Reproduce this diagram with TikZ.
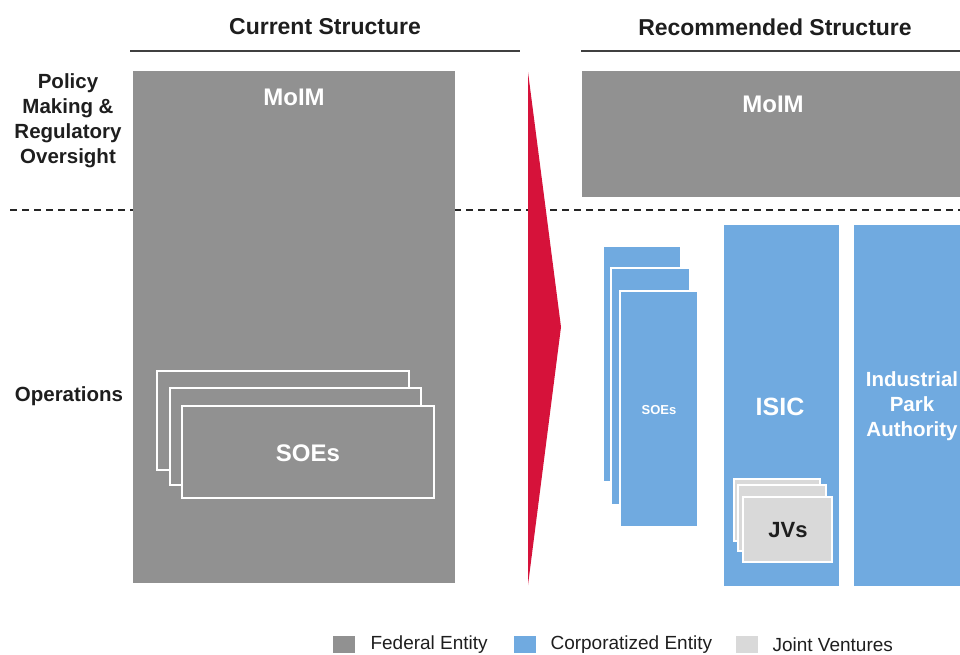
\documentclass[tikz,border=0pt]{standalone}
\usepackage{fontspec}
\setmainfont{Liberation Sans}
\definecolor{fedgray}{RGB}{145,145,145}
\definecolor{corpblue}{RGB}{112,170,224}
\definecolor{jvgray}{RGB}{217,217,217}
\definecolor{arrowred}{RGB}{214,18,58}
\definecolor{txt}{RGB}{30,30,30}
\tikzset{
  box/.style={anchor=north west, inner sep=0pt, outer sep=0pt},
  fedbox/.style={box, fill=fedgray},
  corpbox/.style={box, fill=corpblue},
  stackg/.style={box, fill=fedgray, draw=white, line width=1.6pt},
  stackb/.style={box, fill=corpblue, draw=white, line width=1.4pt},
  stackj/.style={box, fill=jvgray, draw=white, line width=1.4pt},
  title/.style={font=\fontsize{23}{27}\selectfont\bfseries, text=txt},
  side/.style={font=\fontsize{20.5}{25}\selectfont\bfseries, text=txt, align=center},
  wlab/.style={font=\fontsize{24}{25}\selectfont\bfseries, text=white, align=center},
  legtext/.style={font=\fontsize{19}{22}\selectfont, text=txt, anchor=west},
  legsq/.style={box, minimum width=22pt, minimum height=17pt},
}
\begin{document}
\begin{tikzpicture}[x=1pt,y=-1pt]
\useasboundingbox (0,0) rectangle (960,654);
% titles
\node[title] (t1) at (325,27) {Current Structure};
\node[title] (t2) at (775,27) {Recommended Structure};
\coordinate (l1a) at (130,51); \coordinate (l1b) at (520,51);
\coordinate (l2a) at (581,51); \coordinate (l2b) at (962,51);
\draw[line width=2pt, black!75] (l1a) -- (l1b);
\draw[line width=2pt, black!75] (l2a) -- (l2b);
% side labels
\node[side] (pol) at (68,121) {Policy\\Making \&\\Regulatory\\Oversight};
\node[side] (ops) at (69,396) {Operations};
% dashed divider
\coordinate (d1) at (10,210); \coordinate (d2) at (962,210);
\draw[line width=1.5pt, dash pattern=on 7pt off 5pt, black!85] (d1) -- (d2);
% left MoIM
\node[fedbox, minimum width=322pt, minimum height=512pt] (moim1) at (133,71) {};
\node[wlab] (moim1t) at (294,97) {MoIM};
% left SOEs stack
\node[stackg, minimum width=252pt, minimum height=99pt] (s1) at (157,371) {};
\node[stackg, minimum width=251pt, minimum height=97pt] (s2) at (170,388) {};
\node[stackg, minimum width=252pt, minimum height=92pt] (s3) at (182,406) {};
\node[wlab] (soe1t) at (308,453) {SOEs};
% red arrow
\coordinate (ra) at (528,72); \coordinate (rb) at (561,327); \coordinate (rc) at (528,585);
\fill[arrowred] (ra) -- (rb) -- (rc) -- cycle;
% right MoIM
\node[fedbox, minimum width=390pt, minimum height=126pt] (moim2) at (582,71) {};
\node[wlab] (moim2t) at (773,104) {MoIM};
% right SOEs stack
\node[stackb, minimum width=78pt, minimum height=236pt] (b1) at (603,246) {};
\node[stackb, minimum width=79pt, minimum height=237pt] (b2) at (611,268) {};
\node[stackb, minimum width=78pt, minimum height=236pt] (b3) at (620,291) {};
\node[font=\fontsize{13}{14}\selectfont\bfseries, text=white] (soe2t) at (659,410) {SOEs};
% ISIC
\node[corpbox, minimum width=115pt, minimum height=361pt] (isic) at (724,225) {};
\node[wlab, font=\fontsize{25}{26}\selectfont\bfseries] (isict) at (780,407) {ISIC};
% JVs stack
\node[stackj, minimum width=86pt, minimum height=62pt] (j1) at (734,479) {};
\node[stackj, minimum width=88pt, minimum height=66pt] (j2) at (738,485) {};
\node[stackj, minimum width=89pt, minimum height=65pt] (j3) at (743,497) {};
\node[font=\fontsize{22}{24}\selectfont\bfseries, text=txt] (jvt) at (788,530) {JVs};
% Industrial Park Authority
\node[corpbox, minimum width=120pt, minimum height=361pt] (ipa) at (854,225) {};
\node[wlab, font=\fontsize{20.5}{25}\selectfont\bfseries] (ipat) at (912,406) {Industrial\\Park\\Authority};
% legend
\node[legsq, fill=fedgray] (lg1) at (333,636) {};
\node[legtext] (lg1t) at (367,645) {Federal Entity};
\node[legsq, fill=corpblue] (lg2) at (514,636) {};
\node[legtext] (lg2t) at (547,645) {Corporatized Entity};
\node[legsq, fill=jvgray] (lg3) at (736,636) {};
\node[legtext] (lg3t) at (769,645) {Joint Ventures};
\end{tikzpicture}
\end{document}
